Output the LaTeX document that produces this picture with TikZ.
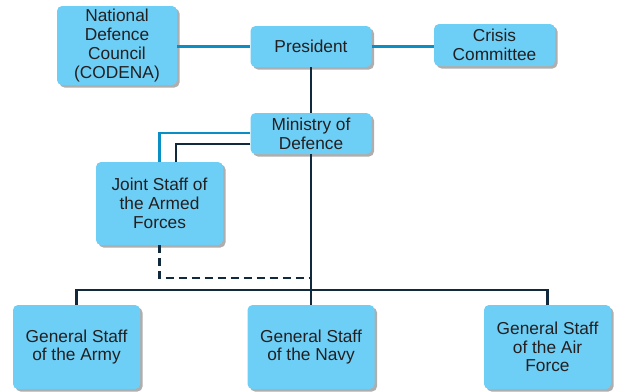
\documentclass[tikz,border=0pt]{standalone}
\usepackage{fontspec}
\setmainfont{Liberation Sans}
\usetikzlibrary{shadows}
\definecolor{boxfill}{HTML}{6DCFF6}
\definecolor{linkblue}{HTML}{0A8EC4}
\definecolor{linknavy}{HTML}{10293C}
\definecolor{boxtext}{HTML}{231F20}
\tikzset{
  unit/.style 2 args={draw=none, fill=boxfill, rounded corners=5pt, align=center,
    text=boxtext, minimum width=#1, minimum height=#2, inner sep=0pt,
    font=\fontsize{17.3}{18.7}\selectfont,
    drop shadow={shadow xshift=2.5pt, shadow yshift=-2.5pt, fill=black!70, opacity=.45}},
  bluelink/.style={draw=linkblue, line width=2.5pt},
  navylink/.style={draw=linknavy, line width=2.7pt},
}
\begin{document}
\begin{tikzpicture}[x=1pt, y=-1pt]
		\useasboundingbox (0,0) rectangle (617,391);
		% boxes
		\node[unit={120pt}{79pt}] (codena) at (117,45.5) {National\\Defence\\Council\\(CODENA)};
		\node[unit={121pt}{41pt}] (pres) at (311,46.5) {President};
		\node[unit={121pt}{42pt}] (crisis) at (494.5,45) {Crisis\\Committee};
		\node[unit={121pt}{41pt}] (mod) at (311,133.5) {Ministry of\\Defence};
		\node[unit={127pt}{83pt}] (joint) at (159.5,203.5) {Joint Staff of\\the Armed\\Forces};
		\node[unit={127pt}{84pt}] (army) at (76.5,347) {General Staff\\of the Army};
		\node[unit={127pt}{84pt}] (navy) at (311,347) {General Staff\\of the Navy};
		\node[unit={127pt}{84pt}] (air) at (547.5,347) {General Staff\\of the Air\\Force};
		\coordinate (bus) at (311,290);
		\coordinate (dashend) at (311,278);
		% links
		\draw[bluelink] (codena.east |- pres.west) -- (pres.west);
		\draw[bluelink] (pres.east) -- (crisis.west |- pres.east);
		\draw[bluelink] ([yshift=0.5pt]mod.west) -| (joint.north);
		\draw[navylink] ([yshift=-10.5pt]mod.west) -| ([xshift=16.5pt]joint.north);
		\draw[navylink] (pres.south) -- (mod.north);
		\draw[navylink] (mod.south) -- (navy.north);
		\draw[navylink] (army.north) |- (bus) -| (air.north);
		\draw[navylink, dash pattern=on 8pt off 5pt] (joint.south) |- (dashend);
	\end{tikzpicture}
\end{document}
